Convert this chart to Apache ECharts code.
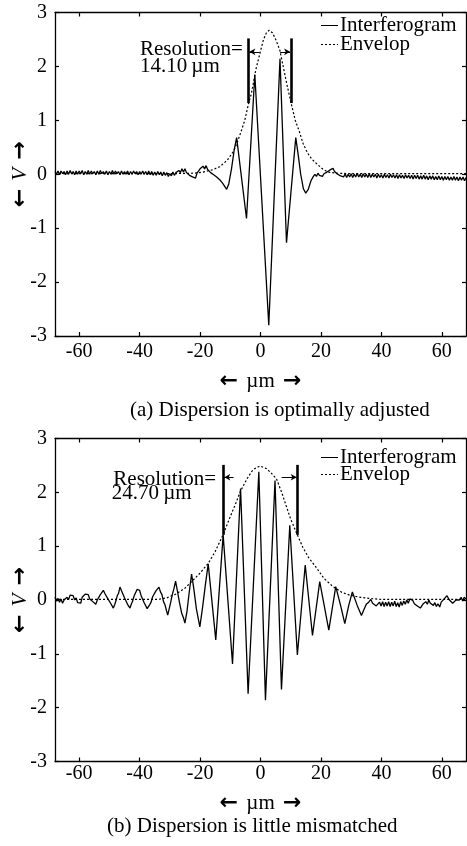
<!DOCTYPE html>
<html>
<head>
<meta charset="utf-8">
<script src="https://cdn.jsdelivr.net/npm/echarts@6/dist/echarts.min.js"></script>
<style>html,body{margin:0;padding:0;background:#fff;}#c{width:467px;height:846px;}</style>
</head>
<body>
<div id="c"></div>
<script>
// ---------- data ----------
const xTicks = [-60, -40, -20, 0, 20, 40, 60];
const yTicks = [-3, -2, -1, 0, 1, 2, 3];
const seriesNames = ['Interferogram', 'Envelop'];
const captions = ['(a) Dispersion is optimally adjusted', '(b) Dispersion is little mismatched'];

// (a) interferogram, optimally adjusted dispersion
const interfA = [
 [-68,0.05],[-67.5,0.0],[-67,0.06],[-66.5,-0.01],[-66,0.06],[-65.5,0.01],[-65,0.05],[-64.5,-0.01],[-64,0.06],[-63.5,0.0],
 [-63,0.07],[-62.5,0.01],[-62,0.05],[-61.5,-0.01],[-61,0.06],[-60.5,0.0],[-60,0.06],[-59.5,0.01],[-59,0.07],[-58.5,-0.01],
 [-58,0.05],[-57.5,0.0],[-57,0.07],[-56.5,0.0],[-56,0.06],[-55.5,0.01],[-55,0.05],[-54.5,-0.01],[-54,0.06],[-53.5,0.0],
 [-53,0.07],[-52.5,0.01],[-52,0.05],[-51.5,0.0],[-51,0.06],[-50.5,-0.01],[-50,0.05],[-49.5,0.0],[-49,0.07],[-48.5,0.0],
 [-48,0.06],[-47.5,0.01],[-47,0.05],[-46.5,-0.01],[-46,0.06],[-45.5,0.0],[-45,0.05],[-44.5,0.0],[-44,0.06],[-43.5,-0.01],
 [-43,0.05],[-42.5,0.0],[-42,0.06],[-41.5,0.01],[-41,0.05],[-40.5,-0.01],[-40,0.05],[-39.5,0.0],[-39,0.06],[-38.5,0.0],
 [-38,0.05],[-37.5,-0.01],[-37,0.06],[-36.5,-0.01],[-36,0.05],[-35.5,-0.02],[-35,0.04],[-34.5,-0.02],[-34,0.05],[-33.5,-0.01],
 [-33,0.04],[-32.5,-0.03],[-32,0.04],[-31.5,-0.02],[-31,0.03],[-30.5,-0.04],
 [-30,0.01],[-29.5,-0.03],[-29,0.04],[-28.5,-0.02],[-28,0.03],[-27.5,0.01],[-27,0.07],[-26.5,0.03],[-26,0.1],[-25.5,0.04],
 [-25,0.1],[-24.5,0.03],[-24,0.05],[-23.5,-0.02],[-23,0.0],[-22.5,-0.05],[-22,-0.03],[-21.5,-0.07],[-21,0.02],[-20.5,0.01],
 [-20,0.1],[-19.5,0.08],[-19,0.15],[-18.5,0.1],[-18,0.16],[-17.5,0.09],[-17,0.1],[-16.5,0.03],[-16,0.04],[-15.5,-0.01],
 [-15,0.0],[-14.5,-0.05],[-14,-0.05],[-13.5,-0.1],[-13,-0.11],[-12.5,-0.17],[-12,-0.21],[-11.2,-0.28],[-10.5,-0.18],
 [-9.6,0.1],[-8.7,0.45],[-7.9,0.68],[-4.63,-0.82],[-1.88,1.85],[2.74,-2.8],[6.45,2.14],[8.6,-1.27],[11.67,0.68],
 [12.5,0.35],[13.3,0.0],[14.2,-0.27],[14.97,-0.35],[15.8,-0.28],[16.7,-0.12],
 [17.5,-0.04],[18,0.0],[18.5,-0.04],[19,0.02],[19.5,-0.02],[20,0.01],[20.5,-0.04],[21,0.01],[21.5,-0.02],[22,0.04],
 [22.5,0.03],[23,0.08],[23.5,0.06],[24,0.11],[24.5,0.05],[25,0.07],[25.5,0.0],[26,0.0],[26.5,-0.03],[27,0.0],
 [27.5,-0.05],[28,0.01],[28.5,-0.06],[29,0.0],[29.5,-0.05],[30,0.01],[30.5,-0.06],[31,0.0],[31.5,-0.05],[32,0.02],
 [32.5,-0.05],[33,0.0],[33.5,-0.06],[34,0.01],[34.5,-0.05],[35,0.0],[35.5,-0.06],[36,0.01],[36.5,-0.06],[37,0.0],
 [37.5,-0.05],[38,0.0],[38.5,-0.07],[39,0.0],[39.5,-0.06],[40,-0.01],[40.5,-0.07],[41,0.0],[41.5,-0.06],[42,-0.01],
 [42.5,-0.07],[43,0.0],[43.5,-0.06],[44,-0.01],[44.5,-0.07],[45,-0.01],[45.5,-0.08],[46,-0.01],[46.5,-0.07],[47,-0.02],
 [47.5,-0.08],[48,-0.01],[48.5,-0.07],[49,-0.02],[49.5,-0.08],[50,-0.02],[50.5,-0.09],[51,-0.02],[51.5,-0.08],[52,-0.02],
 [52.5,-0.09],[53,-0.03],[53.5,-0.09],[54,-0.02],[54.5,-0.09],[55,-0.03],[55.5,-0.1],[56,-0.03],[56.5,-0.09],[57,-0.03],
 [57.5,-0.1],[58,-0.04],[58.5,-0.1],[59,-0.03],[59.5,-0.1],[60,-0.04],[60.5,-0.11],[61,-0.04],[61.5,-0.1],[62,-0.04],
 [62.5,-0.11],[63,-0.05],[63.5,-0.11],[64,-0.04],[64.5,-0.11],[65,-0.05],[65.5,-0.12],[66,-0.05],[66.5,-0.11],[67,-0.05],
 [67.5,-0.12],[68,-0.06]
];
const envA = [
 [-68,0.01],[-30,0.01],[-22,0.02],[-19,0.04],[-16,0.08],[-13.5,0.14],[-11,0.26],[-9,0.42],[-7.9,0.56],[-6.5,0.78],
 [-5.2,1.0],[-4,1.3],[-3,1.5],[-1.5,1.95],[-0.2,2.24],[1,2.5],[2,2.63],[2.9,2.67],[4,2.62],[5.2,2.48],[6.4,2.3],
 [7.5,2.0],[8.8,1.65],[10,1.35],[11.5,1.0],[12.8,0.8],[14.1,0.57],[15.5,0.4],[17,0.28],[18.5,0.2],[20.5,0.1],
 [22.3,0.04],[25,0.02],[30,0.01],[68,0.01]
];

// (b) interferogram, slightly mismatched dispersion
const interfB = [
 [-68,0.05],[-67.5,-0.02],[-67,0.03],[-66.5,-0.04],[-66,0.02],[-65.5,-0.06],[-65,0.0],[-64.5,-0.02],[-64,0.05],[-63.5,0.01],
 [-63,0.09],[-62.5,0.06],[-62,0.08],[-61.5,0.0],[-61,0.04],[-60.5,-0.05],[-60,-0.02],[-59.5,-0.06],[-59,0.05],[-58.5,0.02],
 [-58,0.11],[-57.5,0.08],[-57,0.1],[-56.5,0.02],[-56,0.05],[-55.5,-0.03],[-55,-0.01],[-54.5,-0.08],[-54,0.0],[-53.5,0.01],
 [-53,0.1],[-52.5,0.09],[-52,0.18],[-51.5,0.12],[-51,0.11],[-50.5,0.02],[-50,0.03],[-49.5,-0.07],[-49,-0.08],[-48.7,-0.15],
 [-48.2,-0.08],[-47.8,-0.01],[-47.4,0.08],[-47,0.12],[-46.5,0.24],[-46,0.17],[-45.5,0.14],[-45,0.04],[-44.5,0.02],[-44,-0.08],
 [-43.5,-0.1],[-43.2,-0.15],[-42.7,-0.07],[-42.3,-0.02],[-41.8,0.08],[-41.3,0.11],[-40.8,0.2],[-40.5,0.22],[-40,0.18],[-39.5,0.08],
 [-39,0.06],[-38.5,-0.05],[-38,-0.07],[-37.5,-0.16],[-37.2,-0.17],[-36.7,-0.09],[-36.2,-0.04],[-35.7,0.06],[-35.2,0.08],[-34.6,0.17],
 [-34.1,0.18],[-33.6,0.24],[-33.1,0.15],[-32.6,0.1],[-32.1,-0.03],[-31.6,-0.09],[-31.1,-0.2],[-30.7,-0.28],[-30.2,-0.16],[-29.7,-0.04],
 [-29.2,0.1],[-28.6,0.22],[-28.1,0.35],[-27.5,0.17],[-26.8,-0.05],[-26.1,-0.24],[-25.5,-0.33],[-25,-0.43],[-24.3,-0.2],[-23.6,0.14],
 [-22.8,0.48],[-22.1,0.22],[-21.2,-0.17],[-20.07,-0.5],[-19.2,-0.15],[-18.2,0.3],[-17.3,0.67],
 [-14.8,-0.74],[-12.36,1.21],[-9.26,-1.19],[-6.6,2.07],[-4.1,-1.74],[-0.55,2.38],[1.64,-1.86],[4.8,2.22],[6.94,-1.66],
 [9.69,1.39],[12.2,-1.02],[14.8,0.65],[17.2,-0.66],[19.6,0.34],[22.6,-0.56],[24.9,0.25],[26.5,-0.1],[27.9,-0.44],
 [29.2,-0.1],[30.4,0.15],[32,-0.1],[33.4,-0.29],[34.2,-0.18],[35,-0.08],[35.8,-0.04],[36.5,0.01],[37.1,-0.06],[37.7,-0.04],
 [38.3,-0.11],[38.9,-0.13],
 [39.4,-0.04],[39.9,-0.11],[40.4,-0.03],[40.9,-0.12],[41.4,-0.04],[41.9,-0.11],[42.4,-0.03],[42.9,-0.12],[43.4,-0.04],[43.9,-0.11],
 [44.4,-0.02],[44.9,-0.12],[45.4,-0.05],[45.9,-0.13],[46.4,-0.03],[46.9,-0.1],[47.4,-0.02],[47.9,-0.08],[48.4,0.0],[48.9,-0.06],
 [49.4,0.02],[49.9,-0.01],[50.4,-0.01],[50.9,-0.07],[51.4,-0.05],[51.9,-0.11],[52.4,-0.09],[52.9,-0.15],[53.2,-0.16],[53.7,-0.08],
 [54.2,-0.11],[54.7,-0.03],[55.2,-0.08],[55.7,0.0],[56.2,-0.06],[56.7,-0.04],[57.2,-0.1],[57.7,-0.05],[58.2,-0.12],[58.7,-0.07],
 [59.3,-0.13],[59.8,-0.04],[60.3,-0.06],[60.8,0.02],[61.3,0.01],[61.7,0.08],[62,0.1],[62.5,0.0],[63,0.02],[63.6,-0.06],
 [64.2,-0.08],[64.7,0.0],[65.3,-0.02],[65.8,0.0],[66.4,0.05],[66.9,-0.02],[67.4,0.05],[68,0.02]
];
const envB = [
 [-68,0.01],[-40,0.01],[-34,0.01],[-31,0.04],[-28,0.11],[-25,0.22],[-22.3,0.37],[-20,0.5],[-17.3,0.68],[-15,0.9],
 [-12.4,1.21],[-10,1.55],[-8,1.82],[-6.8,2.0],[-4.5,2.25],[-2.5,2.42],[-0.2,2.49],[2,2.44],[3.5,2.36],[5.3,2.25],
 [7,2.0],[8.5,1.75],[10,1.5],[12.2,1.21],[14,0.98],[16,0.78],[18.5,0.6],[21,0.4],[24,0.25],[27,0.14],[29.5,0.09],
 [33,0.05],[36,0.03],[40,0.01],[68,0.01]
];

// resolution annotations: bar x positions, bar y extent, arrow level, label lines, label anchor
const resBarsA = [-4.0, 10.1];
const resBarYA = [1.32, 2.52];
const resArrowA = [[-0.3, -3.7], [6.5, 9.8]];
const resArrowYA = 2.27;
const resTextA = ['Resolution=', '14.10\u2009\u00b5m'];
const resTextPosA = [[-39.9, 2.31], [-39.9, 1.99]];

const resBarsB = [-12.4, 12.3];
const resBarYB = [1.21, 2.51];
const resArrowB = [[-8.9, -12.0], [7.0, 12.0]];
const resArrowYB = 2.28;
const resTextB = ['Resolution=', '24.70\u2009\u00b5m'];
const resTextPosB = [[-48.7, 2.23], [-49.2, 1.97]];

// ---------- chart ----------
const FONT = '"Liberation Serif", "Times New Roman", "DejaVu Serif", serif';
const ARROWFONT = '"DejaVu Sans", sans-serif';
const chart = echarts.init(document.getElementById('c'), null, {renderer: 'canvas'});

const grids = [
  {left: 55, right: 1, top: 12.5, height: 323.5, outerBoundsMode: 'none', containLabel: false},
  {left: 55, right: 1, top: 438.5, height: 323, outerBoundsMode: 'none', containLabel: false}
];
const labelMargins = [6, 2];
const nameGaps = [34, 31];
const arrowRich = {fontFamily: ARROWFONT, fontSize: 22, fontWeight: 'bold', color: '#000', padding: [0, 3, 0, 3]};

function xAxes(gi) {
  const base = {
    type: 'value', gridIndex: gi, min: -68, max: 68,
    axisLine: {show: true, onZero: false, lineStyle: {color: '#000', width: 1.3}},
    axisTick: {show: true, inside: true, length: 4, customValues: xTicks, lineStyle: {color: '#000', width: 1.2}},
    splitLine: {show: false}
  };
  return [
    Object.assign({}, base, {
      position: 'bottom',
      axisLabel: {show: true, customValues: xTicks, margin: labelMargins[gi], color: '#000', fontFamily: FONT, fontSize: 20},
      name: '{a|\u2190} {t|\u00b5m} {a|\u2192}', nameLocation: 'middle', nameGap: nameGaps[gi], nameMoveOverlap: false,
      nameTextStyle: {color: '#000', fontFamily: FONT, fontSize: 21,
        rich: {a: arrowRich, t: {fontFamily: FONT, fontSize: 21, color: '#000'}}}
    }),
    Object.assign({}, base, {position: 'top', axisLabel: {show: false}})
  ];
}
function yAxes(gi) {
  const base = {
    type: 'value', gridIndex: gi, min: -3, max: 3, interval: 1,
    axisLine: {show: true, onZero: false, lineStyle: {color: '#000', width: 1.3}},
    axisTick: {show: true, inside: true, length: 4, lineStyle: {color: '#000', width: 1.2}},
    splitLine: {show: false}
  };
  return [
    Object.assign({}, base, {
      position: 'left',
      axisLabel: {show: true, margin: 8, color: '#000', fontFamily: FONT, fontSize: 20},
      name: '{a|\u2190} {v|V} {a|\u2192}', nameLocation: 'middle', nameRotate: 90, nameGap: 24, nameMoveOverlap: false,
      nameTextStyle: {color: '#000', fontFamily: FONT, fontSize: 21,
        rich: {a: arrowRich, v: {fontStyle: 'italic', fontFamily: FONT, fontSize: 21, color: '#000'}}}
    }),
    Object.assign({}, base, {position: 'right', axisLabel: {show: false}})
  ];
}

function annotLines(bars, barY, arrows, arrowY) {
  const d = [];
  bars.forEach(function (x) {
    d.push([{coord: [x, barY[0]], symbol: 'none', lineStyle: {width: 2.6, type: 'solid', color: '#000'}},
            {coord: [x, barY[1]], symbol: 'none'}]);
  });
  arrows.forEach(function (a) {
    d.push([{coord: [a[0], arrowY], symbol: 'none', lineStyle: {width: 1, type: 'solid', color: '#000'}},
            {coord: [a[1], arrowY], symbol: 'arrow', symbolSize: [5, 6]}]);
  });
  return {silent: true, animation: false, symbol: ['none', 'none'], label: {show: false},
          emphasis: {disabled: true}, lineStyle: {color: '#000', type: 'solid'}, data: d};
}

function seriesFor(gi, interf, env, annot) {
  return [
    {name: seriesNames[0], type: 'line', xAxisIndex: gi * 2, yAxisIndex: gi * 2, data: interf,
     symbol: 'none', showSymbol: false, animation: false, silent: true,
     lineStyle: {color: '#000', width: 1.3}, itemStyle: {color: '#000'}},
    {name: seriesNames[1], type: 'line', xAxisIndex: gi * 2, yAxisIndex: gi * 2, data: env,
     symbol: 'none', showSymbol: false, animation: false, silent: true, z: 3,
     lineStyle: {color: '#000', width: 1.2, type: [2, 2]}, itemStyle: {color: '#000'},
     markLine: annot}
  ];
}

const ICON_SOLID = 'path://M0,0H17V1H0Z';
const ICON_DOTTED = 'path://M0,0H2V1H0Z M4,0H6V1H4Z M8,0H10V1H8Z M12,0H14V1H12Z M16,0H17V1H16Z';
function legendFor(top, gap) {
  return {
    orient: 'vertical', left: 321, top: top, padding: 0, itemWidth: 17, itemHeight: 1.4, itemGap: gap,
    selectedMode: false,
    data: [{name: seriesNames[0], icon: ICON_SOLID}, {name: seriesNames[1], icon: ICON_DOTTED}],
    itemStyle: {color: '#000', borderWidth: 0},
    textStyle: {color: '#000', fontFamily: FONT, fontSize: 21, padding: [0, 0, 0, -3]}
  };
}

const option = {
  backgroundColor: '#fff',
  animation: false,
  grid: grids,
  title: [
    {text: captions[0], left: 130, top: 400, padding: 0, textStyle: {color: '#000', fontFamily: FONT, fontSize: 21, fontWeight: 'normal'}},
    {text: captions[1], left: 107, top: 816, padding: 0, textStyle: {color: '#000', fontFamily: FONT, fontSize: 21, fontWeight: 'normal'}}
  ],
  legend: [legendFor(15, -2), legendFor(447, -4)],
  xAxis: xAxes(0).concat(xAxes(1)),
  yAxis: yAxes(0).concat(yAxes(1)),
  series: seriesFor(0, interfA, envA, annotLines(resBarsA, resBarYA, resArrowA, resArrowYA))
    .concat(seriesFor(1, interfB, envB, annotLines(resBarsB, resBarYB, resArrowB, resArrowYB)))
};
chart.setOption(option);

function textEls(gi, lines, pos) {
  return lines.map(function (t, i) {
    const p = chart.convertToPixel({xAxisIndex: gi * 2, yAxisIndex: gi * 2}, pos[i]);
    return {type: 'text', silent: true, x: p[0], y: p[1],
      style: {text: t, fill: '#000', fontFamily: FONT, fontSize: 21, align: 'left', verticalAlign: 'middle'}};
  });
}
chart.setOption({graphic: textEls(0, resTextA, resTextPosA).concat(textEls(1, resTextB, resTextPosB))});
</script>
</body>
</html>
